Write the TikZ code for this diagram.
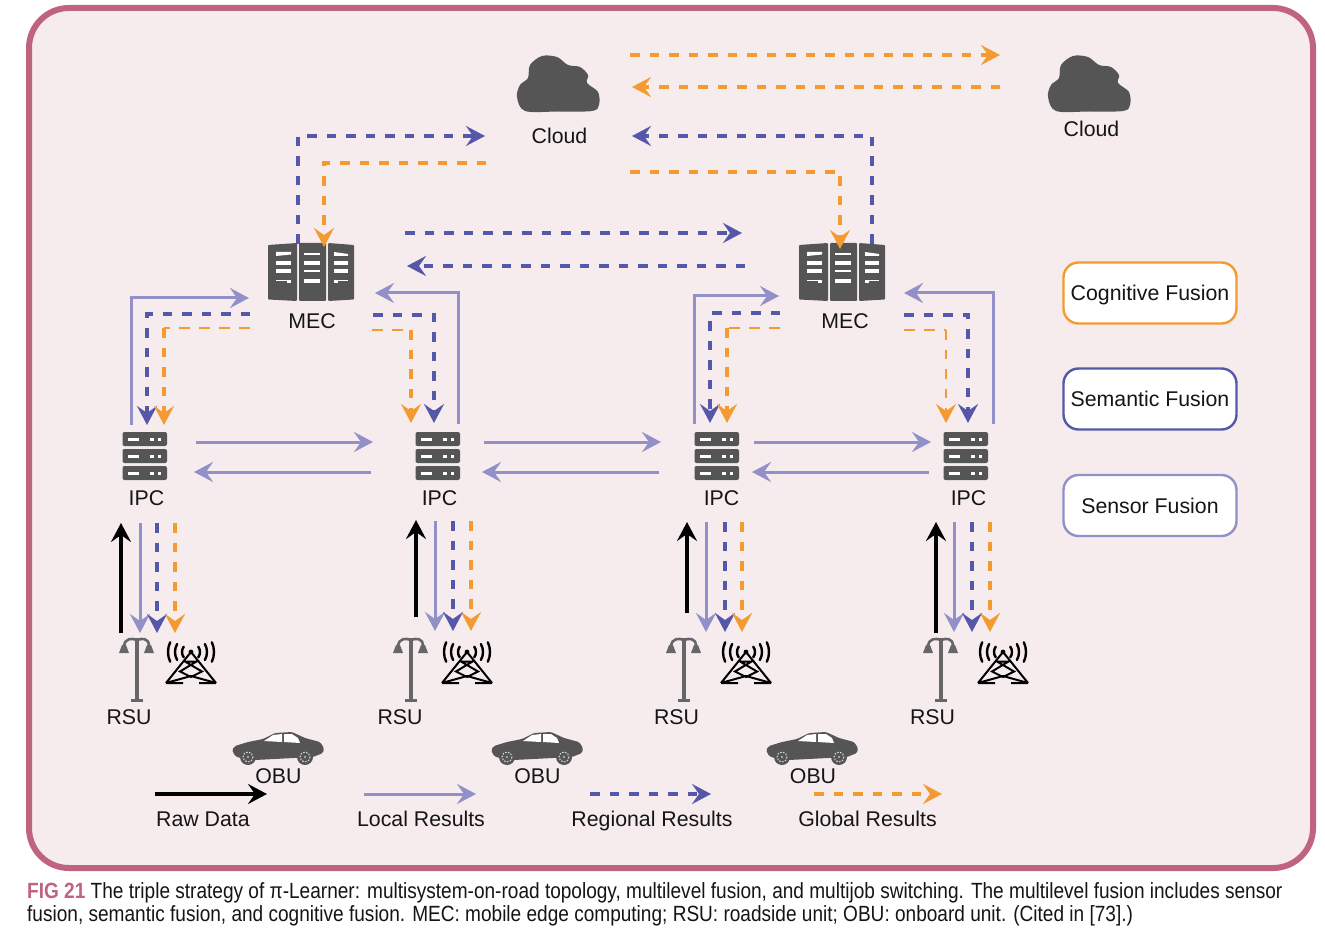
\documentclass[tikz,border=0pt]{standalone}
\usepackage{fontspec}
\setmainfont{Liberation Sans}
\newfontfamily\capfont[FakeStretch=0.866]{Liberation Sans}
\usetikzlibrary{arrows.meta}
\definecolor{framec}{HTML}{C0637F}
\definecolor{panelc}{HTML}{F6ECEE}
\definecolor{locc}{HTML}{9290C8}
\definecolor{semc}{HTML}{5558A8}
\definecolor{cogc}{HTML}{F39A30}
\definecolor{iconc}{HTML}{555555}
\definecolor{poleC}{HTML}{666666}
\definecolor{txtc}{HTML}{151515}
\tikzset{
  x=1pt,y=-1pt,
  tipS/.tip={Stealth[length=19pt,width=20pt,inset=7pt]},
  loc/.style={draw=locc,line width=3pt,-{tipS[fill=locc]}},
  sem/.style={draw=semc,line width=3.1pt,dash pattern=on 9.5pt off 10pt,-{tipS[fill=semc]}},
  cogn/.style={draw=cogc,line width=3.1pt,dash pattern=on 9.5pt off 10pt,-{tipS[fill=cogc]}},
  cogflat/.style={draw=cogc,line width=1.8pt,dash pattern=on 11pt off 9pt},
  raw/.style={draw=black,line width=3.5pt,-{tipS[fill=black]}},
  lbl/.style={inner sep=0pt,text=txtc,text height=15pt,text depth=0pt,font=\fontsize{21.3}{24}\selectfont},
  iconbox/.style={inner sep=0pt,minimum width=#1,minimum height=10pt},
  fusion/.style={draw=#1,line width=2.4pt,rounded corners=15pt,fill=white,minimum width=173pt,minimum height=61pt,inner sep=0pt,text=txtc,text height=15pt,text depth=0pt,font=\fontsize{21.3}{24}\selectfont},
  cloudicon/.pic={
    \fill[iconc] plot[smooth cycle,tension=.55] coordinates {(-33,26) (-41,12) (-38,0) (-30,-7) (-28,-20) (-16,-29) (-1,-28) (10,-20) (22,-18) (30,-10) (29,-2) (40,7) (41,20) (34,26) (0,26.5)};
  },
  mecicon/.pic={
    \fill[iconc,rounded corners=1pt] (-43,-27) -- (-14,-29) -- (-14,29) -- (-43,27.5) -- cycle;
    \fill[iconc,rounded corners=1pt] (-12,-29) rectangle (15,29);
    \fill[iconc,rounded corners=1pt] (17,-29) -- (43,-27) -- (43,27.5) -- (17,29) -- cycle;
    \foreach \yy in {-9,-1} {
      \fill[white] (-35,\yy-2) rectangle (-20,\yy+2);
      \fill[white] (23,\yy-2) rectangle (37,\yy+2);
    }
    \fill[white] (-35,-20) -- (-20,-20) -- (-20,-17.5) -- (-35,-16) -- cycle;
    \fill[white] (23,-20) -- (37,-18) -- (37,-16) -- (23,-16) -- cycle;
    \fill[white] (-7,-19) rectangle (9,-17);
    \fill[white] (-7,-11) rectangle (9,-7);
    \fill[white] (-7,-2) rectangle (9,0);
    \fill[white] (-7,7) rectangle (9,11);
    \fill[white] (-35,8) rectangle (-20,9.5);
    \fill[white] (-24,8) rectangle (-20,11.5);
    \fill[white] (23,8) rectangle (37,9.5);
    \fill[white] (23,8) rectangle (27,11.5);
  },
  ipcicon/.pic={
    \foreach \yy in {-18,-1,16} {
      \fill[iconc,rounded corners=2pt] (-22.5,\yy-7) rectangle (22,\yy+7);
      \fill[white] (-17,\yy-1.5) rectangle (-6,\yy+1.5);
      \fill[white] (5,\yy-1.5) rectangle (9,\yy+1.5);
      \fill[white] (13,\yy-1.5) rectangle (15.5,\yy+1.5);
    }
  },
  lampicon/.pic={
    \draw[poleC,line width=3.2pt] (0,-31) -- (0,31);
    \draw[poleC,line width=3pt] (-6,31) -- (6,31);
    \draw[poleC,line width=2.6pt] (0,-29) .. controls (-5,-31) and (-12,-31) .. (-13,-23);
    \draw[poleC,line width=2.6pt] (0,-29) .. controls (5,-31) and (12,-31) .. (12,-23);
    \fill[poleC] (-15,-24) -- (-11,-24) -- (-8,-16) -- (-18,-16) -- cycle;
    \fill[poleC] (10,-24) -- (14,-24) -- (17,-16) -- (7,-16) -- cycle;
  },
  towericon/.pic={
    \draw[black,line width=2pt,line join=miter]
      (-25,20) -- (0,-11) -- (25,20)
      (-25,20) -- (-8,20) (8,20) -- (25,20)
      (-6,-1.5) -- (5.5,-1.5) -- (-11,8.5) -- (0,14) -- (11,8.5) -- (-6,-1.5)
      (-25,20) -- (0,13) -- (25,20);
    \fill[black] (0,-11) circle (2.4);
    \foreach \rr/\aa in {9/36,16/30,23/25} {
      \draw[black,line width=2.4pt,line cap=round] ([shift={(0,-11)}]-\aa:\rr) arc (-\aa:\aa:\rr);
      \draw[black,line width=2.4pt,line cap=round] ([shift={(0,-11)}]180-\aa:\rr) arc (180-\aa:180+\aa:\rr);
    }
  },
  caricon/.pic={
    \fill[iconc,rounded corners=1.5pt] (-45,2) -- (-42,-2) -- (-29,-6) -- (-14,-9) -- (-2,-15) -- (15,-16) -- (28,-10) -- (43,-6) -- (47,0) -- (46,5) -- (36,9) -- (-22,12) -- (-37,10) -- (-42,8) -- cycle;
    \fill[white] (-13,-7) -- (5,-6) -- (5,-14) -- (-4,-13) -- cycle;
    \fill[white] (7,-6) -- (23,-5) -- (21,-10) -- (15,-14) -- (7,-14) -- cycle;
    \foreach \xx in {-29,28} {
      \fill[iconc] (\xx,9) circle (8);
      \draw[white!85!black,line width=1pt,dash pattern=on 1.6pt off 1.4pt] (\xx,9) circle (5);
      \fill[white!75!black] (\xx,9) circle (1.2);
    }
  }
}
\begin{document}
\begin{tikzpicture}
\useasboundingbox (0,0) rectangle (1325,933);
\fill[white] (0,0) rectangle (1325,933);
\draw[framec,line width=6pt,fill=panelc,rounded corners=40pt] (29,8) rectangle (1313,868);

% icons as named nodes
\node[iconbox=84pt] (cloud1) at (558,85) {};
\node[iconbox=84pt] (cloud2) at (1089,85) {};
\node[iconbox=88pt] (mec1) at (311,272) {};
\node[iconbox=88pt] (mec2) at (842,272) {};
\node[iconbox=45pt] (ipc1) at (145,457) {};
\node[iconbox=45pt] (ipc2) at (438,457) {};
\node[iconbox=45pt] (ipc3) at (717,457) {};
\node[iconbox=45pt] (ipc4) at (966,457) {};
\node[iconbox=36pt] (lamp1) at (137,669) {};
\node[iconbox=36pt] (lamp2) at (411,669) {};
\node[iconbox=36pt] (lamp3) at (684,669) {};
\node[iconbox=36pt] (lamp4) at (941,669) {};
\node[iconbox=50pt] (tower1) at (191,663) {};
\node[iconbox=50pt] (tower2) at (467,663) {};
\node[iconbox=50pt] (tower3) at (746,663) {};
\node[iconbox=50pt] (tower4) at (1003,663) {};
\node[iconbox=90pt] (car1) at (277,748) {};
\node[iconbox=90pt] (car2) at (536,748) {};
\node[iconbox=90pt] (car3) at (811,748) {};
\foreach \n in {cloud1,cloud2} \pic at (\n.center) {cloudicon};
\foreach \n in {mec1,mec2} \pic at (\n.center) {mecicon};
\foreach \n in {ipc1,ipc2,ipc3,ipc4} \pic at (\n.center) {ipcicon};
\foreach \n in {lamp1,lamp2,lamp3,lamp4} \pic at (\n.center) {lampicon};
\foreach \n in {tower1,tower2,tower3,tower4} \pic at (\n.center) {towericon};
\foreach \n in {car1,car2,car3} \pic at (\n.center) {caricon};

% labels
\node[lbl] (tcloud1) at (559.5,136) {Cloud};
\node[lbl] (tcloud2) at (1091.5,129) {Cloud};
\node[lbl] (tmec1) at (312,321) {MEC};
\node[lbl] (tmec2) at (845,321) {MEC};
\node[lbl] (tipc1) at (146.5,498) {IPC};
\node[lbl] (tipc2) at (439.5,498) {IPC};
\node[lbl] (tipc3) at (721.5,498) {IPC};
\node[lbl] (tipc4) at (968.5,498) {IPC};
\node[lbl] (trsu1) at (129,717) {RSU};
\node[lbl] (trsu2) at (400,717) {RSU};
\node[lbl] (trsu3) at (676.5,717) {RSU};
\node[lbl] (trsu4) at (932.5,717) {RSU};
\node[lbl] (tobu1) at (278.5,776) {OBU};
\node[lbl] (tobu2) at (537.5,776) {OBU};
\node[lbl] (tobu3) at (813,776) {OBU};
\node[lbl] (traw) at (203,819) {Raw Data};
\node[lbl] (tloc) at (421,819) {Local Results};
\node[lbl] (treg) at (652,819) {Regional Results};
\node[lbl] (tglo) at (867.5,819) {Global Results};
\node[fusion=cogc] (bcog) at (1150,293) {Cognitive Fusion};
\node[fusion=semc] (bsem) at (1150,399) {Semantic Fusion};
\node[fusion=locc] (bsen) at (1150,505.5) {Sensor Fusion};

% cloud level
\draw[cogn] ([shift={(72,-30)}]cloud1.center) -- ([shift={(-89,-30)}]cloud2.center);
\draw[cogn] ([shift={(-89,2)}]cloud2.center) -- ([shift={(74,2)}]cloud1.center);
\draw[sem] ([shift={(-13,-28)}]mec1.center) |- ([shift={(-73,51)}]cloud1.center);
\draw[cogn] ([shift={(-72,78)}]cloud1.center) -| ([shift={(13,-25)}]mec1.center);
\draw[sem] ([shift={(30,-28)}]mec2.center) |- ([shift={(74,51)}]cloud1.center);
\draw[cogn] ([shift={(72,87)}]cloud1.center) -| ([shift={(-2,-23)}]mec2.center);

% MEC to MEC
\draw[sem] ([shift={(94,-39)}]mec1.center) -- ([shift={(-100,-39)}]mec2.center);
\draw[sem] ([shift={(-97,-6)}]mec2.center) -- ([shift={(96,-6)}]mec1.center);

% MEC 1 and its IPCs
\draw[loc] ([shift={(-14,-32)}]ipc1.center) |- ([shift={(-62,26)}]mec1.center);
\draw[sem] ([shift={(-61,42)}]mec1.center) -| ([shift={(2,-32)}]ipc1.center);
\coordinate (a1) at ([shift={(-61,56)}]mec1.center);
\coordinate (b1) at ([shift={(19,-32)}]ipc1.center);
\draw[cogflat] (a1) -- (a1 -| b1);
\draw[cogn] (a1 -| b1) -- (b1);
\draw[loc] ([shift={(20,-33)}]ipc2.center) |- ([shift={(64,21)}]mec1.center);
\draw[sem] ([shift={(62,43)}]mec1.center) -| ([shift={(-4,-34)}]ipc2.center);
\coordinate (a2) at ([shift={(61,58)}]mec1.center);
\coordinate (b2) at ([shift={(-27,-34)}]ipc2.center);
\draw[cogflat] (a2) -- (a2 -| b2);
\draw[cogn] (a2 -| b2) -- (b2);

% MEC 2 and its IPCs
\draw[loc] ([shift={(-23,-33)}]ipc3.center) |- ([shift={(-63,24)}]mec2.center);
\draw[sem] ([shift={(-62,41)}]mec2.center) -| ([shift={(-7,-34)}]ipc3.center);
\coordinate (a3) at ([shift={(-62,56)}]mec2.center);
\coordinate (b3) at ([shift={(10,-34)}]ipc3.center);
\draw[cogflat] (a3) -- (a3 -| b3);
\draw[cogn] (a3 -| b3) -- (b3);
\draw[loc] ([shift={(27,-33)}]ipc4.center) |- ([shift={(62,21)}]mec2.center);
\draw[sem] ([shift={(62,43)}]mec2.center) -| ([shift={(2,-34)}]ipc4.center);
\coordinate (a4) at ([shift={(62,58)}]mec2.center);
\coordinate (b4) at ([shift={(-20,-34)}]ipc4.center);
\draw[cogflat] (a4) -- (a4 -| b4);
\draw[cogn,line width=1.8pt] (a4 -| b4) -- (b4);

% IPC to IPC
\draw[loc] ([shift={(51,-15)}]ipc1.center) -- ([shift={(-65,-15)}]ipc2.center);
\draw[loc] ([shift={(-67,15)}]ipc2.center) -- ([shift={(49,15)}]ipc1.center);
\draw[loc] ([shift={(46,-15)}]ipc2.center) -- ([shift={(-56,-15)}]ipc3.center);
\draw[loc] ([shift={(-58,15)}]ipc3.center) -- ([shift={(44,15)}]ipc2.center);
\draw[loc] ([shift={(37,-15)}]ipc3.center) -- ([shift={(-35,-15)}]ipc4.center);
\draw[loc] ([shift={(-37,15)}]ipc4.center) -- ([shift={(35,15)}]ipc3.center);

% RSU and IPC
\draw[raw] ([shift={(-16,-36)}]lamp1.center) -- ([shift={(-24,66)}]ipc1.center);
\draw[loc] ([shift={(-5,66)}]ipc1.center) -- ([shift={(3,-36)}]lamp1.center);
\draw[sem] ([shift={(12,66)}]ipc1.center) -- ([shift={(20,-36)}]lamp1.center);
\draw[cogn] ([shift={(30,66)}]ipc1.center) -- ([shift={(38,-36)}]lamp1.center);
\draw[raw] ([shift={(5,-52)}]lamp2.center) -- ([shift={(-22,63)}]ipc2.center);
\draw[loc] ([shift={(-3,64)}]ipc2.center) -- ([shift={(24,-38)}]lamp2.center);
\draw[sem] ([shift={(15,64)}]ipc2.center) -- ([shift={(42,-38)}]lamp2.center);
\draw[cogn] ([shift={(33,64)}]ipc2.center) -- ([shift={(60,-38)}]lamp2.center);
\draw[raw] ([shift={(3,-56)}]lamp3.center) -- ([shift={(-30,65)}]ipc3.center);
\draw[loc] ([shift={(-11,65)}]ipc3.center) -- ([shift={(22,-37)}]lamp3.center);
\draw[sem] ([shift={(8,65)}]ipc3.center) -- ([shift={(41,-37)}]lamp3.center);
\draw[cogn] ([shift={(25,65)}]ipc3.center) -- ([shift={(58,-37)}]lamp3.center);
\draw[raw] ([shift={(-5,-36)}]lamp4.center) -- ([shift={(-30,65)}]ipc4.center);
\draw[loc] ([shift={(-12,65)}]ipc4.center) -- ([shift={(13,-37)}]lamp4.center);
\draw[sem] ([shift={(6,65)}]ipc4.center) -- ([shift={(31,-37)}]lamp4.center);
\draw[cogn] ([shift={(24,65)}]ipc4.center) -- ([shift={(49,-37)}]lamp4.center);

% legend
\coordinate (rawa) at (155,794); \coordinate (rawb) at (267,794);
\coordinate (loca) at (364,794); \coordinate (locb) at (476,794);
\coordinate (sema) at (590,794); \coordinate (semb) at (711,794);
\coordinate (coga) at (814,794); \coordinate (cogb) at (942,794);
\draw[raw] (rawa) -- (rawb);
\draw[loc] (loca) -- (locb);
\draw[sem] (sema) -- (semb);
\draw[cogn] (coga) -- (cogb);

% caption
\node[anchor=base west,inner sep=0pt,text=txtc,font=\capfont\fontsize{22}{24}\selectfont] (cap1) at (27,898)
  {\textcolor{framec}{\textbf{FIG 21}} The triple strategy of π-Learner: multisystem-on-road topology, multilevel fusion, and multijob switching. The multilevel fusion includes sensor};
\node[anchor=base west,inner sep=0pt,text=txtc,font=\capfont\fontsize{22}{24}\selectfont] (cap2) at (27,921)
  {fusion, semantic fusion, and cognitive fusion. MEC: mobile edge computing; RSU: roadside unit; OBU: onboard unit. (Cited in [73].)};
\end{tikzpicture}
\end{document}
